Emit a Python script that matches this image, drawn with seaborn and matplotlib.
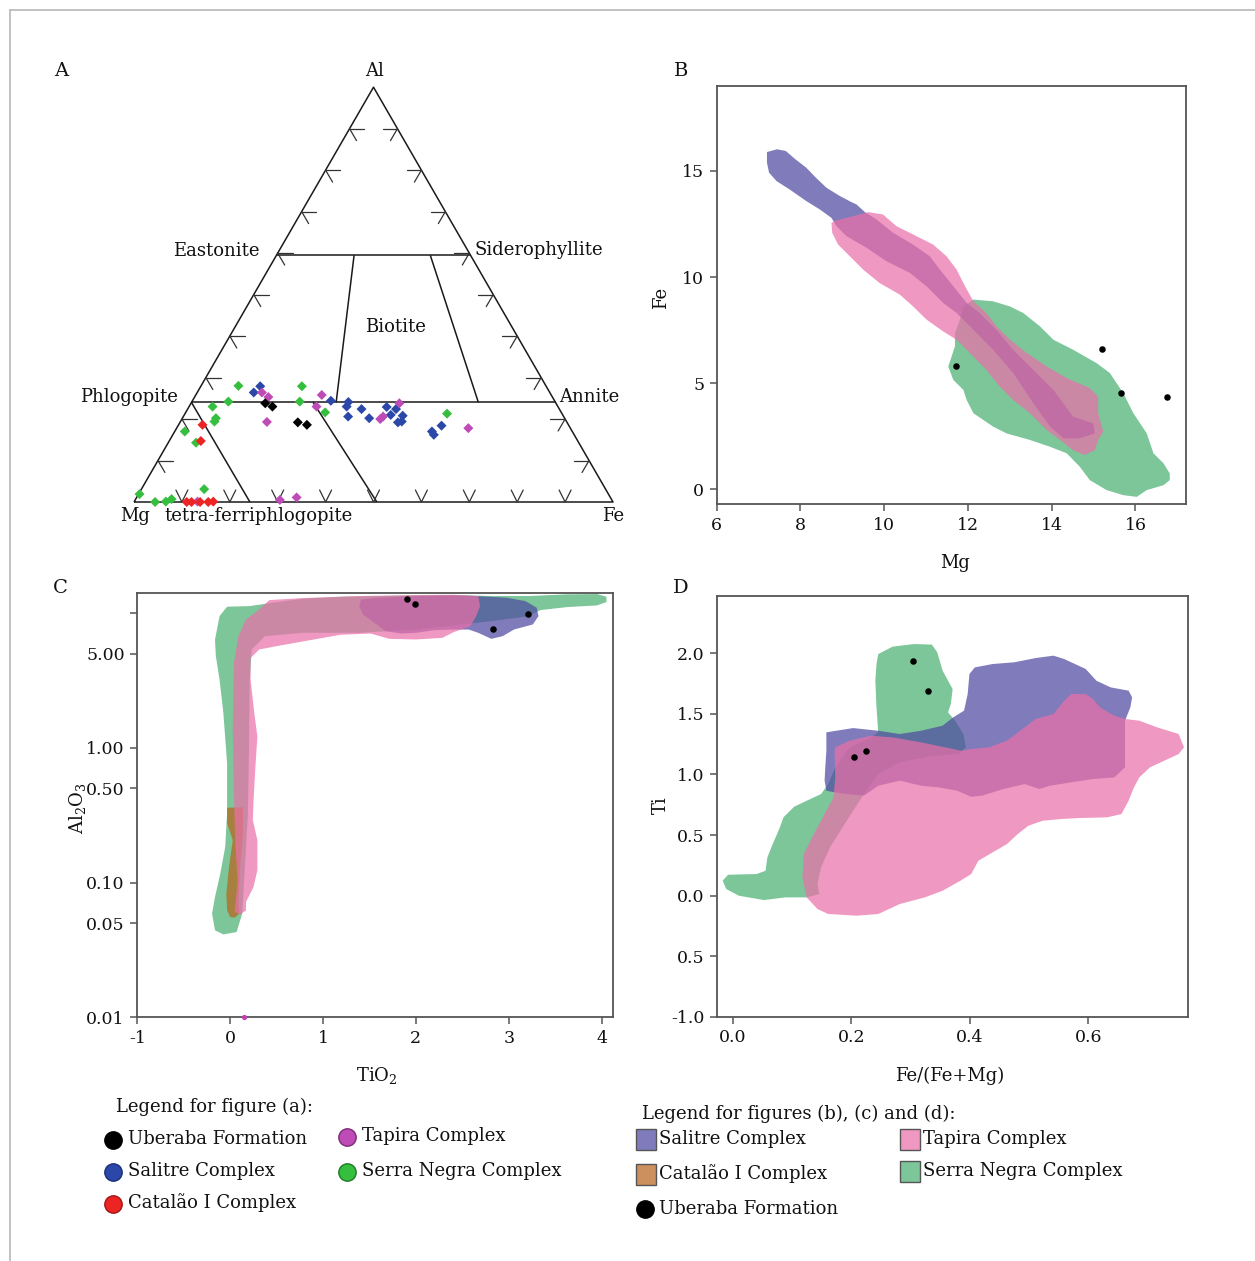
import numpy as np
import pandas as pd
import matplotlib
matplotlib.use("Agg")
import matplotlib.pyplot as plt
from matplotlib.lines import Line2D
from matplotlib.patches import Rectangle
import seaborn as sns

# ---------------------------------------------------------------- data
# (A) Al-Mg-Fe ternary compositions (molar fractions, Mg = 1 - Al - Fe)
UBERABA_A_AL = [0.238, 0.230, 0.192, 0.186]
UBERABA_A_FE = [0.155, 0.174, 0.246, 0.268]
SALITRE_A_AL = [0.279, 0.264, 0.244, 0.241, 0.230, 0.206, 0.224, 0.202, 0.229,
                0.210, 0.224, 0.208, 0.192, 0.194, 0.170, 0.162, 0.184]
SALITRE_A_FE = [0.124, 0.118, 0.289, 0.327, 0.329, 0.344, 0.363, 0.390, 0.413,
                0.431, 0.435, 0.457, 0.455, 0.462, 0.537, 0.545, 0.550]
CATALAO_A_AL = [0.186, 0.147, 0.0, 0.0, 0.0, 0.0, 0.001]
CATALAO_A_FE = [0.050, 0.066, 0.110, 0.120, 0.138, 0.155, 0.165]
TAPIRA_A_AL = [0.253, 0.258, 0.193, 0.230, 0.200, 0.206, 0.238, 0.178, 0.005,
               0.011, 0.001, 0.264]
TAPIRA_A_FE = [0.154, 0.263, 0.181, 0.266, 0.414, 0.417, 0.435, 0.609, 0.302,
               0.334, 0.132, 0.135]
SERRA_A_AL = [0.280, 0.230, 0.242, 0.202, 0.194, 0.170, 0.143, 0.279, 0.242,
              0.216, 0.213, 0.019, 0.0, 0.001, 0.007, 0.031]
SERRA_A_FE = [0.078, 0.049, 0.076, 0.070, 0.071, 0.021, 0.058, 0.211, 0.225,
              0.291, 0.547, 0.002, 0.044, 0.066, 0.075, 0.131]

# field boundaries of the mica classification (Al fraction of the two tie lines)
AL_EAST_SID = 0.595
AL_PHL_ANN = 0.24
BIOTITE_LEFT = ([0.595, 0.24], [0.162, 0.302])
BIOTITE_RIGHT = ([0.595, 0.24], [0.321, 0.599])
TFP_LEFT = ([0.24, 0.0], [0.0, 0.242])
TFP_RIGHT = ([0.24, 0.0], [0.254, 0.507])
TERN_TICKS = [0.1, 0.2, 0.3, 0.4, 0.5, 0.6, 0.7, 0.8, 0.9]

# (B) Fe vs Mg fields
SALITRE_B_X = [7.20, 7.44, 7.65, 7.86, 8.14, 8.37, 8.62, 8.94, 9.22, 9.34, 9.54, 9.82,
               10.21, 10.69, 11.09, 11.33, 11.65, 11.97, 12.28, 12.68, 13.08, 13.56,
               14.04, 14.51, 14.99, 15.03, 14.67, 14.28, 13.96, 13.56, 13.08, 12.60,
               12.13, 11.73, 11.41, 11.01, 10.61, 10.05, 9.58, 9.10, 8.86, 8.74, 8.46,
               8.14, 7.74, 7.43, 7.25, 7.20]
SALITRE_B_Y = [15.89, 16.02, 15.94, 15.58, 15.15, 14.68, 14.21, 13.82, 13.53, 13.42,
               13.06, 12.71, 12.09, 11.53, 10.98, 10.35, 9.57, 8.78, 8.31, 7.52, 6.57,
               5.63, 4.69, 3.43, 3.11, 2.64, 2.41, 2.41, 2.96, 4.06, 5.48, 6.58, 7.52,
               8.31, 8.78, 9.57, 10.20, 10.75, 11.38, 11.93, 12.40, 12.79, 13.19, 13.58,
               14.13, 14.52, 14.92, 15.39]
TAPIRA_B_X = [8.74, 8.86, 9.26, 9.62, 9.97, 10.29, 10.69, 11.17, 11.49, 11.73, 11.93,
              12.13, 12.44, 12.68, 13.00, 13.40, 13.88, 14.36, 14.91, 15.11, 15.11,
              15.23, 15.11, 15.03, 14.79, 14.51, 14.20, 13.88, 13.48, 13.08, 12.76,
              12.44, 12.05, 11.73, 11.41, 11.01, 10.69, 10.37, 9.89, 9.50, 9.18, 8.90,
              8.76]
TAPIRA_B_Y = [12.56, 12.67, 12.87, 13.06, 12.95, 12.40, 12.01, 11.53, 10.98, 10.35,
              9.57, 8.86, 8.31, 7.68, 7.06, 6.43, 5.79, 5.24, 4.77, 4.37, 3.59, 2.72,
              2.33, 1.85, 1.62, 1.85, 2.33, 2.80, 3.59, 4.21, 4.84, 5.63, 6.42, 7.05,
              7.44, 8.00, 8.62, 9.18, 9.72, 10.35, 10.98, 11.53, 12.08]
SERRA_B_X = [12.13, 12.60, 13.00, 13.32, 13.72, 14.04, 14.51, 15.07, 15.39, 15.71,
             15.95, 16.27, 16.43, 16.67, 16.82, 16.82, 16.67, 16.27, 16.03, 15.71,
             15.31, 14.91, 14.67, 14.36, 13.96, 13.48, 12.92, 12.60, 12.13, 11.97,
             11.89, 11.65, 11.53, 11.61, 11.69, 11.69, 11.81, 11.89]
SERRA_B_Y = [8.94, 8.86, 8.62, 8.31, 7.68, 7.05, 6.58, 5.95, 5.48, 4.53, 3.59, 2.64,
             1.70, 1.23, 0.75, 0.44, 0.20, -0.03, -0.35, -0.27, -0.03, 0.44, 1.07,
             1.70, 2.01, 2.33, 2.64, 2.96, 3.59, 4.21, 4.69, 5.16, 5.79, 6.26, 6.74,
             7.36, 8.00, 8.62]
UBERABA_B_X = [15.19, 11.71, 15.65, 16.76]
UBERABA_B_Y = [6.61, 5.79, 4.53, 4.34]

# (C) Al2O3 vs TiO2 fields
SERRA_C_X = [-0.033, 0.211, 0.455, 0.780, 1.187, 1.593, 2.0, 2.407, 2.813, 3.220,
             3.626, 3.951, 4.053, 4.053, 3.951, 3.626, 3.341, 3.220, 2.813, 2.0, 1.39,
             0.78, 0.374, 0.232, 0.211, 0.203, 0.191, 0.171, 0.150, 0.130, 0.069,
             -0.073, -0.163, -0.195, -0.163, -0.106, -0.053, -0.033, -0.033, -0.073,
             -0.114, -0.154, -0.163, -0.114]
SERRA_C_Y = [11.13, 11.25, 11.91, 12.76, 13.20, 13.36, 13.51, 13.59, 13.36, 13.36,
             13.75, 13.82, 13.20, 12.05, 11.38, 11.06, 10.51, 9.48, 8.70, 7.54, 7.13,
             7.13, 6.73, 5.36, 3.20, 1.02, 0.326, 0.184, 0.104, 0.0587, 0.0429,
             0.0412, 0.0442, 0.0587, 0.0782, 0.1165, 0.184, 0.326, 0.768, 1.81, 3.20,
             4.78, 6.36, 9.48]
TAPIRA_C_X = [0.423, 0.780, 1.390, 2.0, 2.407, 2.671, 2.691, 2.650, 2.589, 2.407,
              2.285, 2.0, 1.715, 1.512, 1.187, 0.902, 0.537, 0.313, 0.220, 0.220,
              0.260, 0.293, 0.272, 0.252, 0.244, 0.293, 0.293, 0.252, 0.171, 0.171,
              0.110, 0.049, 0.081, 0.057, 0.041, 0.028, 0.041, 0.089, 0.171, 0.293]
TAPIRA_C_Y = [12.47, 12.90, 13.36, 13.59, 13.66, 13.36, 11.25, 9.48, 7.99, 7.21,
              6.54, 6.36, 6.43, 7.04, 6.89, 6.36, 5.74, 5.36, 4.64, 3.20, 1.81, 1.21,
              0.725, 0.410, 0.291, 0.2064, 0.1234, 0.0928, 0.0718, 0.0622, 0.0581,
              0.0604, 0.104, 0.184, 0.434, 1.36, 4.26, 6.73, 8.95, 10.33]
SALITRE_C_X = [1.411, 1.593, 2.0, 2.407, 2.650, 2.976, 3.179, 3.301, 3.321, 3.260,
               3.057, 2.935, 2.813, 2.671, 2.569, 2.407, 2.203, 2.0, 1.837, 1.675,
               1.553, 1.431, 1.390]
SALITRE_C_Y = [12.62, 12.98, 13.36, 13.51, 13.36, 12.98, 12.26, 10.94, 9.48, 8.22,
               7.54, 6.73, 6.43, 7.13, 7.54, 7.54, 7.46, 7.13, 7.04, 7.33, 8.46, 9.75,
               11.25]
CATALAO_C_X = [-0.033, 0.138, 0.138, 0.110, 0.089, 0.098, 0.049, 0.0, -0.033, -0.041,
               -0.012, 0.028, -0.033]
CATALAO_C_Y = [0.359, 0.361, 0.231, 0.138, 0.0738, 0.0587, 0.0548, 0.0555, 0.0622,
               0.0828, 0.1307, 0.2064, 0.275]
UBERABA_C_X = [1.91, 1.99, 3.21, 2.83]
UBERABA_C_Y = [12.6, 11.6, 9.8, 7.55]
TAPIRA_C_PT_X = [0.15]
TAPIRA_C_PT_Y = [0.0101]

# (D) Ti vs Fe/(Fe+Mg) fields
SERRA_D_X = [0.2457, 0.2698, 0.3060, 0.3362, 0.3453, 0.3543, 0.3712, 0.3682, 0.3634,
             0.3754, 0.3893, 0.3936, 0.3815, 0.3302, 0.2819, 0.2457, 0.2215, 0.2034,
             0.1853, 0.1642, 0.1491, 0.1431, 0.1461, 0.1249, 0.0887, 0.0525, 0.0103,
             -0.0109, -0.0169, -0.0078, 0.0404, 0.0555, 0.0585, 0.0676, 0.0797,
             0.0857, 0.1038, 0.1249, 0.1491, 0.1612, 0.1732, 0.1974, 0.2336, 0.2457,
             0.2427, 0.2408, 0.2427]
SERRA_D_Y = [1.994, 2.055, 2.077, 2.072, 2.008, 1.857, 1.705, 1.582, 1.513, 1.444,
             1.334, 1.224, 1.169, 1.147, 1.100, 1.004, 0.838, 0.701, 0.563, 0.398,
             0.233, 0.095, 0.013, -0.015, -0.015, -0.037, -0.001, 0.054, 0.123, 0.172,
             0.178, 0.205, 0.315, 0.426, 0.563, 0.646, 0.734, 0.783, 0.838, 0.921,
             1.059, 1.224, 1.306, 1.348, 1.554, 1.774, 1.912]
SALITRE_D_X = [0.1581, 0.2034, 0.2457, 0.2819, 0.3181, 0.3543, 0.3724, 0.3905, 0.3966,
               0.3996, 0.4086, 0.4388, 0.4750, 0.5113, 0.5414, 0.5596, 0.5958, 0.6139,
               0.6380, 0.6682, 0.6742, 0.6712, 0.6622, 0.6622, 0.6441, 0.6078, 0.5716,
               0.5354, 0.5173, 0.4931, 0.4569, 0.4207, 0.4026, 0.3785, 0.3483, 0.3181,
               0.2819, 0.2457, 0.2215, 0.1913, 0.1732, 0.1581, 0.1551, 0.1563, 0.1581]
SALITRE_D_Y = [1.348, 1.383, 1.361, 1.334, 1.361, 1.403, 1.472, 1.527, 1.664, 1.829,
               1.884, 1.912, 1.926, 1.961, 1.981, 1.953, 1.871, 1.774, 1.719, 1.692,
               1.637, 1.554, 1.444, 1.059, 0.976, 0.962, 0.935, 0.907, 0.880, 0.921,
               0.880, 0.825, 0.816, 0.866, 0.893, 0.907, 0.949, 0.907, 0.825, 0.838,
               0.852, 0.866, 0.949, 1.059, 1.196]
TAPIRA_D_X = [0.1720, 0.1732, 0.1974, 0.2336, 0.2698, 0.3181, 0.3724, 0.3845, 0.4026,
              0.4328, 0.4630, 0.4931, 0.5113, 0.5414, 0.5596, 0.5716, 0.5958, 0.6078,
              0.6199, 0.6441, 0.6622, 0.6863, 0.7165, 0.7527, 0.7618, 0.7527, 0.7286,
              0.7044, 0.6863, 0.6773, 0.6682, 0.6561, 0.6320, 0.5837, 0.5535, 0.5233,
              0.4992, 0.4811, 0.4630, 0.4388, 0.4147, 0.4026, 0.3845, 0.3543, 0.3241,
              0.2819, 0.2457, 0.2095, 0.1612, 0.1431, 0.1249, 0.1177, 0.1201, 0.1370,
              0.1551, 0.1702, 0.1732]
TAPIRA_D_Y = [1.196, 1.224, 1.279, 1.320, 1.306, 1.265, 1.210, 1.196, 1.210, 1.224,
              1.279, 1.389, 1.458, 1.499, 1.609, 1.664, 1.664, 1.623, 1.554, 1.485,
              1.458, 1.444, 1.389, 1.334, 1.224, 1.169, 1.114, 1.059, 0.976, 0.893,
              0.783, 0.673, 0.646, 0.640, 0.632, 0.618, 0.577, 0.508, 0.426, 0.357,
              0.288, 0.178, 0.123, 0.040, -0.015, -0.070, -0.152, -0.166, -0.152,
              -0.111, -0.015, 0.150, 0.343, 0.508, 0.673, 0.811, 0.976]
UBERABA_D_X = [0.3036, 0.3296, 0.2052, 0.2245]
UBERABA_D_Y = [1.934, 1.692, 1.141, 1.196]

# tick labels
C_YTICKS = [10, 5, 1, 0.5, 0.1, 0.05, 0.01]
C_YTICKLABELS = ["", "5.00", "1.00", "0.50", "0.10", "0.05", "0.01"]
D_YTICKS = [2.0, 1.5, 1.0, 0.5, 0.0, -0.5, -1.0]
D_YTICKLABELS = ["2.0", "1.5", "1.0", "0.5", "0.0", "0.5", "-1.0"]
D_XTICKS = [0.0, 0.2, 0.4, 0.6]
D_XTICKLABELS = ["0.0", "0.2", "0.4", "0.6"]

# ---------------------------------------------------------------- style
POINT_COLORS = {"Uberaba Formation": "#000000", "Salitre Complex": "#2b47a8",
                "Catalão I Complex": "#ec2424", "Tapira Complex": "#bf4cb6",
                "Serra Negra Complex": "#36be3e"}
POINT_EDGES = {"Uberaba Formation": "#000000", "Salitre Complex": "#1a2f78",
               "Catalão I Complex": "#a01515", "Tapira Complex": "#7d2a78",
               "Serra Negra Complex": "#1d7a28"}
FIELD_COLORS = {"Salitre Complex": "#4f4aa1", "Tapira Complex": "#ea70a9",
                "Catalão I Complex": "#b8661e", "Serra Negra Complex": "#4ab072"}
FIELD_ALPHA = 0.72
SPINE = "#555555"
INK = "#111111"
FS = 13

sns.set_style("white")
plt.rcParams["font.family"] = ["DejaVu Serif"]
plt.rcParams["mathtext.fontset"] = "dejavuserif"

W, H = 1255, 1261
fig = plt.figure(figsize=(W / 100, H / 100), dpi=100)


def box(l, t, r, b):
    return [l / W, 1 - b / H, (r - l) / W, (b - t) / H]


def ftext(x, y, s, ha="center", va="center", size=FS, **kw):
    fig.text(x / W, 1 - y / H, s, ha=ha, va=va, fontsize=size, color=INK, **kw)


# page frame
fig.add_artist(Line2D([10 / W, 1], [1 - 10 / H] * 2, transform=fig.transFigure,
                      color="#b8b8b8", lw=1.2))
fig.add_artist(Line2D([10 / W] * 2, [0, 1 - 10 / H], transform=fig.transFigure,
                      color="#b8b8b8", lw=1.2))

# ---------------------------------------------------------------- panel A
SQ3 = np.sqrt(3) / 2


def tern_xy(al, fe):
    al = np.asarray(al, float)
    fe = np.asarray(fe, float)
    return fe + al / 2, al * SQ3


axA = fig.add_axes(box(134, 502 - 479 * SQ3, 613, 502))
axA.set_xlim(0, 1)
axA.set_ylim(0, SQ3)
axA.axis("off")
line_kw = dict(color="#1a1a1a", lw=1.1, clip_on=False, solid_capstyle="butt")

ox, oy = tern_xy([0, 1, 0, 0], [0, 0, 1, 0])
axA.plot(ox, oy, **line_kw)
for al in (AL_EAST_SID, AL_PHL_ANN):
    lx, ly = tern_xy([al, al], [0, 1 - al])
    axA.plot(lx, ly, **line_kw)
for seg in (BIOTITE_LEFT, BIOTITE_RIGHT, TFP_LEFT, TFP_RIGHT):
    lx, ly = tern_xy(*seg)
    axA.plot(lx, ly, **line_kw)

tick_kw = dict(color="#333333", lw=0.9, clip_on=False)
for t in TERN_TICKS:
    x, y = tern_xy(t, 0)
    axA.plot([x, x + 0.031], [y, y], **tick_kw)
    axA.plot([x, x + 0.0146], [y, y - 0.025], **tick_kw)
    x, y = tern_xy(t, 1 - t)
    axA.plot([x - 0.031, x], [y, y], **tick_kw)
    axA.plot([x, x - 0.0146], [y, y - 0.025], **tick_kw)
    x, y = tern_xy(0, t)
    axA.plot([x - 0.0125, x, x + 0.0125], [0.025, 0, 0.025], **tick_kw)

frames = []
for name, al, fe in [("Serra Negra Complex", SERRA_A_AL, SERRA_A_FE),
                     ("Salitre Complex", SALITRE_A_AL, SALITRE_A_FE),
                     ("Tapira Complex", TAPIRA_A_AL, TAPIRA_A_FE),
                     ("Catalão I Complex", CATALAO_A_AL, CATALAO_A_FE),
                     ("Uberaba Formation", UBERABA_A_AL, UBERABA_A_FE)]:
    x, y = tern_xy(al, fe)
    frames.append(pd.DataFrame({"x": x, "y": y, "group": name}))
dfA = pd.concat(frames, ignore_index=True)
sns.scatterplot(data=dfA, x="x", y="y", hue="group", palette=POINT_COLORS,
                marker="D", s=26, linewidth=0, legend=False, ax=axA,
                clip_on=False, zorder=3)

ftext(61, 71, "A", size=14)
ftext(375, 71, "Al")
ftext(260, 251, "Eastonite", ha="right")
ftext(475, 250, "Siderophyllite", ha="left")
ftext(395, 327, "Biotite")
ftext(178, 397, "Phlogopite", ha="right")
ftext(559, 397, "Annite", ha="left")
ftext(135, 516, "Mg")
ftext(164, 516, "tetra-ferriphlogopite", ha="left")
ftext(613, 516, "Fe")


# ---------------------------------------------------------------- helpers
def style_axes(ax):
    for sp in ax.spines.values():
        sp.set_visible(True)
        sp.set_color(SPINE)
        sp.set_linewidth(1.3)
    ax.tick_params(direction="out", length=5, width=1.1, color=SPINE,
                   labelsize=12.5, pad=4, labelcolor=INK, left=True, bottom=True)
    ax.set_xlabel("")
    ax.set_ylabel("")


def field(ax, xs, ys, name, z=1):
    ax.fill(xs, ys, facecolor=FIELD_COLORS[name], alpha=FIELD_ALPHA,
            edgecolor="none", lw=0, zorder=z)


def dots(ax, xs, ys, color="black", s=22):
    sns.scatterplot(x=xs, y=ys, color=color, s=s, linewidth=0, ax=ax,
                    zorder=5, legend=False, clip_on=False)


# ---------------------------------------------------------------- panel B
axB = fig.add_axes(box(716.7, 86, 1185.7, 504.3))
field(axB, SERRA_B_X, SERRA_B_Y, "Serra Negra Complex", 1)
field(axB, SALITRE_B_X, SALITRE_B_Y, "Salitre Complex", 2)
field(axB, TAPIRA_B_X, TAPIRA_B_Y, "Tapira Complex", 3)
dots(axB, UBERABA_B_X, UBERABA_B_Y)
axB.set_xlim(6, 17.2)
axB.set_ylim(-0.7, 19.0)
axB.set_xticks([6, 8, 10, 12, 14, 16])
axB.set_yticks([0, 5, 10, 15])
style_axes(axB)
ftext(681, 71, "B", size=14)
ftext(955, 563, "Mg")
ftext(661, 298, "Fe", rotation=90)

# ---------------------------------------------------------------- panel C
axC = fig.add_axes(box(137.3, 593.3, 612.7, 1017.3))
axC.set_yscale("log")
field(axC, SERRA_C_X, SERRA_C_Y, "Serra Negra Complex", 1)
field(axC, CATALAO_C_X, CATALAO_C_Y, "Catalão I Complex", 2)
field(axC, SALITRE_C_X, SALITRE_C_Y, "Salitre Complex", 3)
field(axC, TAPIRA_C_X, TAPIRA_C_Y, "Tapira Complex", 4)
dots(axC, UBERABA_C_X, UBERABA_C_Y)
dots(axC, TAPIRA_C_PT_X, TAPIRA_C_PT_Y, color="#c040b0", s=14)
axC.set_xlim(-1.0, 4.12)
axC.set_ylim(0.01, 14)
axC.set_xticks([-1, 0, 1, 2, 3, 4])
axC.set_xticklabels(["-1", "0", "1", "2", "3", "4"])
axC.set_yticks(C_YTICKS)
axC.set_yticklabels(C_YTICKLABELS)
axC.yaxis.set_minor_locator(matplotlib.ticker.NullLocator())
style_axes(axC)
ftext(60, 588, "C", size=14)
ftext(377, 1076, "TiO$_2$")
ftext(78, 808, "Al$_2$O$_3$", rotation=90)

# ---------------------------------------------------------------- panel D
axD = fig.add_axes(box(716.7, 595.7, 1188.3, 1016.7))
field(axD, SERRA_D_X, SERRA_D_Y, "Serra Negra Complex", 1)
field(axD, SALITRE_D_X, SALITRE_D_Y, "Salitre Complex", 2)
field(axD, TAPIRA_D_X, TAPIRA_D_Y, "Tapira Complex", 3)
dots(axD, UBERABA_D_X, UBERABA_D_Y)
axD.set_xlim(-0.027, 0.769)
axD.set_ylim(-1.0, 2.476)
axD.set_xticks(D_XTICKS)
axD.set_xticklabels(D_XTICKLABELS)
axD.set_yticks(D_YTICKS)
axD.set_yticklabels(D_YTICKLABELS)
style_axes(axD)
ftext(681, 588, "D", size=14)
ftext(950, 1076, "Fe/(Fe+Mg)")
ftext(661, 805, "Ti", rotation=90)

# ---------------------------------------------------------------- legends
ftext(116, 1107, "Legend for figure (a):", ha="left")
legend_a = [("Uberaba Formation", 113, 1140), ("Salitre Complex", 113, 1172),
            ("Catalão I Complex", 113, 1204), ("Tapira Complex", 347, 1137),
            ("Serra Negra Complex", 347, 1172)]
for name, x, y in legend_a:
    fig.add_artist(Line2D([x / W], [1 - y / H], transform=fig.transFigure,
                          marker="o", ms=12.5, mfc=POINT_COLORS[name],
                          mec=POINT_EDGES[name], mew=1.0, ls="none"))
    ftext(x + 15, y - 1, name, ha="left")

ftext(642, 1114, "Legend for figures (b), (c) and (d):", ha="left")
legend_b = [("Salitre Complex", 636, 1140), ("Catalão I Complex", 636, 1175),
            ("Tapira Complex", 900, 1140), ("Serra Negra Complex", 900, 1172)]
for name, x, y in legend_b:
    fig.add_artist(Rectangle((x / W, 1 - (y + 10) / H), 20 / W, 21 / H,
                             transform=fig.transFigure,
                             facecolor=FIELD_COLORS[name], alpha=FIELD_ALPHA,
                             edgecolor="none"))
    fig.add_artist(Rectangle((x / W, 1 - (y + 10) / H), 20 / W, 21 / H,
                             transform=fig.transFigure, facecolor="none",
                             edgecolor="#555555", lw=1.0))
    ftext(x + 23, y - 1, name, ha="left")
fig.add_artist(Line2D([645 / W], [1 - 1209 / H], transform=fig.transFigure,
                      marker="o", ms=12.5, mfc="black", mec="black", ls="none"))
ftext(659, 1209, "Uberaba Formation", ha="left")

fig.savefig("out.png", dpi=100, facecolor="white")
